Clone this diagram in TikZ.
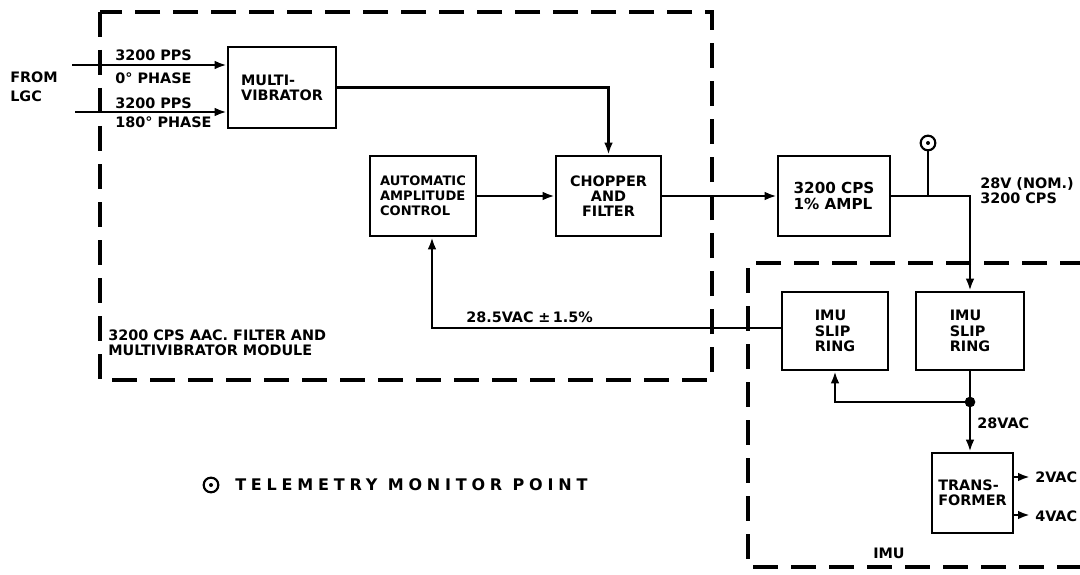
\documentclass[tikz,border=0pt]{standalone}
\usepackage{fontspec}
\setmainfont{DejaVu Sans}
\usetikzlibrary{arrows.meta}
\begin{document}
\begin{tikzpicture}[x=0.75pt,y=-0.75pt,
  every node/.style={font=\fontsize{10.8}{11.4}\selectfont\bfseries},
  box/.style={draw,line width=2pt,rectangle,inner sep=0,align=left},
  wire/.style={line width=1.9pt},
  arr/.style={wire,-{Latex[length=9pt,width=6.5pt]}},
  module/.style={line width=2.4pt,dash pattern=on 19pt off 9.5pt},
  lbl/.style={anchor=west,inner sep=0,align=left},
  tmp/.style={circle,draw,line width=1.6pt,minimum size=11pt,inner sep=0}
]
\useasboundingbox (0,0) rectangle (1080,574);

% dashed enclosures
\draw[module] (100,12) rectangle (712,380);
\draw[module] (1085,263) -- (748,263) -- (748,567) -- (1085,567);

% boxes
\node[box,minimum width=81pt,minimum height=60.75pt] (MV) at (282,87.5) {MULTI-\\VIBRATOR};
\node[box,font=\fontsize{9.8}{11.4}\selectfont\bfseries,minimum width=79.5pt,minimum height=60pt] (AAC) at (423,196) {AUTOMATIC\\AMPLITUDE\\CONTROL};
\node[box,align=center,minimum width=78.75pt,minimum height=60pt] (CHF) at (608.5,196) {CHOPPER\\AND\\FILTER};
\node[box,font=\fontsize{11.4}{11.6}\selectfont\bfseries,minimum width=84pt,minimum height=60pt] (AMP) at (834,196) {3200 CPS\\1\% AMPL};
\node[box,minimum width=79.5pt,minimum height=58.5pt] (SR1) at (835,331) {IMU\\SLIP\\RING};
\node[box,minimum width=81pt,minimum height=58.5pt] (SR2) at (970,331) {IMU\\SLIP\\RING};
\node[box,minimum width=60.75pt,minimum height=60pt] (TR) at (972.5,493) {TRANS-\\FORMER};

% telemetry point
\node[tmp] (TM) at (928,143) {};
\fill (TM.center) circle[radius=1.5pt];

% labels
\node[lbl] (from) at (10,86.5) {FROM\\[3pt]LGC};
\node[lbl] (l1) at (115,55) {3200 PPS};
\node[lbl] (l2) at (115,78) {0° PHASE};
\node[lbl] (l3) at (115,103) {3200 PPS};
\node[lbl] (l4) at (115,122) {180° PHASE};
\node[lbl] (modlbl) at (108,343) {3200 CPS AAC. FILTER AND\\MULTIVIBRATOR MODULE};
\node[lbl] (fblbl) at (466,317) {28.5VAC\,\,±\,1.5\%};
\node[lbl] (outlbl) at (980,191) {28V (NOM.)\\3200 CPS};
\node[lbl] (vac28) at (977,423) {28VAC};
\node[lbl] (vac2) at (1035,477) {2VAC};
\node[lbl] (vac4) at (1035,516) {4VAC};
\node[lbl] (imulbl) at (873,553) {IMU};

% legend
\node[tmp] (LG) at (211,485) {};
\fill (LG.center) circle[radius=1.5pt];
\node[lbl,font=\fontsize{12}{14}\selectfont\bfseries\addfontfeature{LetterSpace=30}] (LT) at (235,485) {TELEMETRY MONITOR POINT};

% connectors
\coordinate (in1) at (72,65);
\coordinate (in2) at (75,112);
\draw[arr] (in1) -- (in1 -| MV.west);
\draw[arr] (in2) -- (in2 -| MV.west);
\draw[arr] (MV.east) -| (CHF.north);
\draw[arr] (AAC.east) -- (CHF.west);
\draw[arr] (CHF.east) -- (AMP.west);
\coordinate (tap) at (TM.south |- AMP.east);
\draw[wire] (TM.south) -- (tap);
\draw[arr] (AMP.east) -| (SR2.north);
\coordinate (J) at (970,402);
\draw[wire] (SR2.south) -- (J);
\fill (J) circle[radius=4pt];
\draw[arr] (J) -- (J |- TR.north);
\draw[arr] (J) -| (SR1.south);
\coordinate (fb) at (432,328);
\draw[arr] (SR1.west |- fb) -- (fb) -- (fb |- AAC.south);
\coordinate (o1) at (1030,477);
\coordinate (o2) at (1030,515);
\draw[arr] (o1 -| TR.east) -- (o1);
\draw[arr] (o2 -| TR.east) -- (o2);
\end{tikzpicture}
\end{document}
